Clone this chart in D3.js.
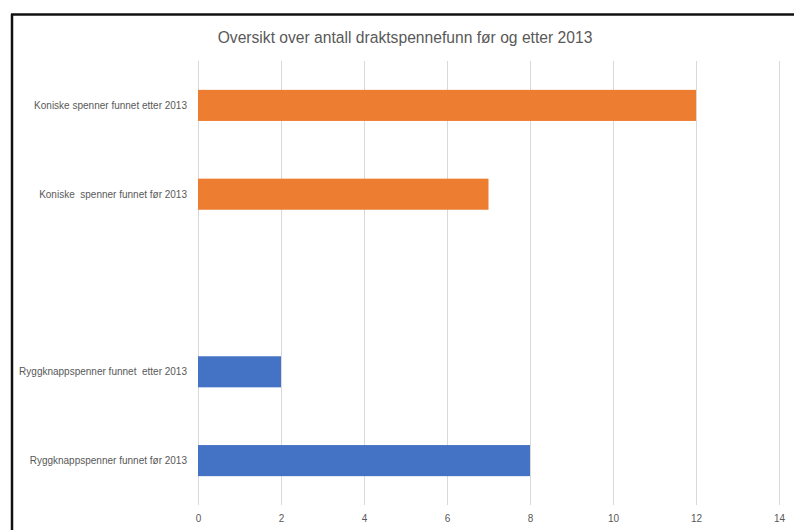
<!DOCTYPE html>
<html>
<head>
<meta charset="utf-8">
<script src="https://cdn.jsdelivr.net/npm/d3@7"></script>
<style>
  html, body { margin: 0; padding: 0; background: #fff; }
  svg { display: block; }
  text { white-space: pre; }
</style>
</head>
<body>
<svg id="chart" width="794" height="530"></svg>
<script>
// ---- data ----
const title = "Oversikt over antall draktspennefunn før og etter 2013";
const categories = [
  "Koniske spenner funnet etter 2013",
  "Koniske  spenner funnet før 2013",
  "",
  "Ryggknappspenner funnet  etter 2013",
  "Ryggknappspenner funnet før 2013"
];
const values = [12, 7, null, 2, 8];
const seriesColors = ["#ED7D31", "#ED7D31", null, "#4472C4", "#4472C4"];
const xTicks = [0, 2, 4, 6, 8, 10, 12, 14];

// ---- layout ----
const svg = d3.select("#chart");
const plotLeft = 198, plotRight = 779, plotTop = 61, plotBottom = 505;

const x = d3.scaleLinear().domain([0, 14]).range([plotLeft, plotRight]);
const y = d3.scaleBand().domain(categories.map((c, i) => i)).range([plotTop, plotBottom]).padding(0);
const barH = y.bandwidth() * 0.35;

// frame (screenshot border)
svg.append("line").attr("x1", 11).attr("x2", 794).attr("y1", 14.5).attr("y2", 14.5)
  .attr("stroke", "#111").attr("stroke-width", 2.5);
svg.append("line").attr("x1", 12).attr("x2", 12).attr("y1", 14).attr("y2", 530)
  .attr("stroke", "#111").attr("stroke-width", 2.5);

// title
const t = svg.append("text").attr("x", 405).attr("y", 43).attr("text-anchor", "middle")
  .attr("font-family", "Liberation Sans, Arial, sans-serif").attr("font-size", 16)
  .attr("fill", "#595959").text(title);
const tw = t.node().getComputedTextLength();
t.attr("font-size", 16 * 375 / tw);

// gridlines + ticks
const xAxis = d3.axisBottom(x).tickValues(xTicks).tickSize(-(plotBottom - plotTop)).tickPadding(10);
const gx = svg.append("g").attr("transform", `translate(0,${plotBottom})`).call(xAxis);
gx.select(".domain").remove();
gx.selectAll(".tick line").attr("stroke", "#d9d9d9").attr("stroke-width", 1);
gx.selectAll(".tick text").attr("fill", "#595959")
  .attr("font-family", "Liberation Sans, Arial, sans-serif").attr("font-size", 10);

// bars
svg.append("g").selectAll("rect")
  .data(values.map((v, i) => ({v, i})).filter(d => d.v != null))
  .join("rect")
  .attr("x", x(0))
  .attr("y", d => y(d.i) + (y.bandwidth() - barH) / 2)
  .attr("width", d => x(d.v) - x(0))
  .attr("height", barH)
  .attr("fill", d => seriesColors[d.i]);

// category labels
svg.append("g").selectAll("text")
  .data(categories.map((c, i) => ({c, i})))
  .join("text")
  .attr("x", 187)
  .attr("y", d => y(d.i) + y.bandwidth() / 2)
  .attr("dy", "0.35em")
  .attr("text-anchor", "end")
  .attr("font-family", "Liberation Sans, Arial, sans-serif")
  .attr("font-size", 10)
  .attr("fill", "#595959")
  .text(d => d.c);
</script>
</body>
</html>
